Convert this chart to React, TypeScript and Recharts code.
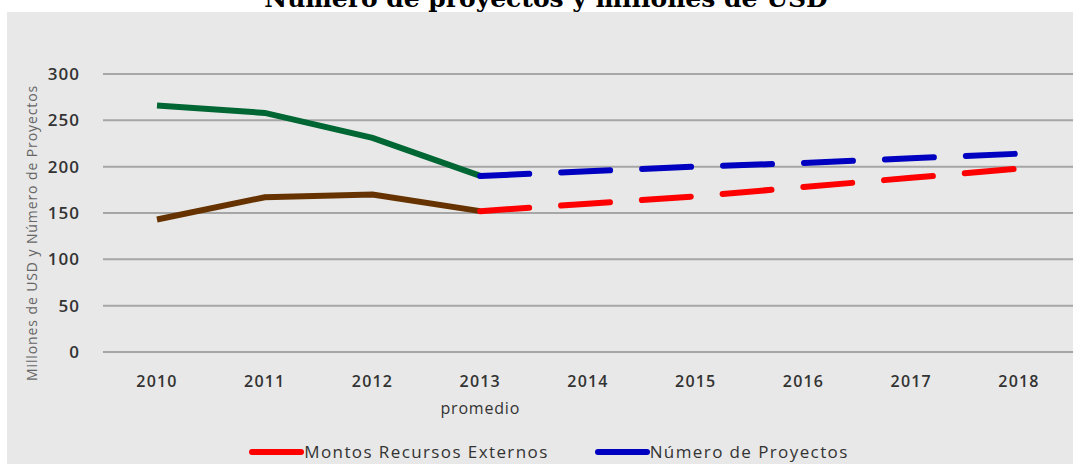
import { LineChart, Line, XAxis, YAxis, CartesianGrid, Legend } from 'recharts';

const years = ['2010', '2011', '2012', '2013', '2014', '2015', '2016', '2017', '2018'];
const yearNotes = ['', '', '', 'promedio', '', '', '', '', ''];
const proyectosHist = [266, 258, 231, 190, null, null, null, null, null];
const montosHist = [143, 167, 170, 152, null, null, null, null, null];
const proyectosProy = [null, null, null, 190, 195, 200, 204, 209, 214];
const montosProy = [null, null, null, 152, 160, 168, 178, 188, 198];
const yTicks = [0, 50, 100, 150, 200, 250, 300];

const data = years.map((y, i) => ({
  year: y,
  proyectosHist: proyectosHist[i],
  montosHist: montosHist[i],
  proyectosProy: proyectosProy[i],
  montosProy: montosProy[i],
}));

const FONT = '"Open Sans", "DejaVu Sans", sans-serif';

const XTick = ({ x, y, payload, index }: any) => (
  <g transform={`translate(${x},${y})`}>
    <text textAnchor="middle" y={35} fontSize={16} fontWeight={600} letterSpacing={1.2} fill="#333" fontFamily={FONT}>
      {payload.value}
    </text>
    {yearNotes[index] && (
      <text textAnchor="middle" y={62} fontSize={16} letterSpacing={0.8} fill="#333" fontFamily={FONT}>
        {yearNotes[index]}
      </text>
    )}
  </g>
);

const legendItems = [
  { label: 'Montos Recursos Externos', color: '#ff0000' },
  { label: 'Número de Proyectos', color: '#0000c0' },
];

const LegendContent = () => (
  <div style={{ display: 'flex', justifyContent: 'center', gap: 46, fontFamily: FONT, fontSize: 17, letterSpacing: 1.4, color: '#333', marginLeft: 18, marginTop: 10 }}>
    {legendItems.map((it) => (
      <div key={it.label} style={{ display: 'flex', alignItems: 'center' }}>
        <svg width={55} height={10}>
          <line x1={3} y1={5} x2={52} y2={5} stroke={it.color} strokeWidth={6} strokeLinecap="round" />
        </svg>
        <span>{it.label}</span>
      </div>
    ))}
  </div>
);

const YLabel = () => (
  <text
    x={26}
    y={221}
    transform="rotate(-90 26 221)"
    textAnchor="middle"
    dominantBaseline="middle"
    fontSize={14}
    letterSpacing={0.9}
    fill="#666"
    fontFamily={FONT}
  >
    Millones de USD y Número de Proyectos
  </text>
);

export default function App() {
  return (
    <div style={{ position: 'absolute', left: 0, top: 0, width: 1073, height: 464, background: '#fff', overflow: 'hidden' }}>
      <svg width={1073} height={12} style={{ position: 'absolute', left: 0, top: 0 }}>
        <text x={546} y={7} textAnchor="middle" fontSize={25} fontWeight="bold" fontFamily='"DejaVu Serif", serif' fill="#000">
          Número de proyectos y millones de USD
        </text>
      </svg>
      <div style={{ position: 'absolute', left: 7, top: 12, width: 1066, height: 452, background: '#e8e8e8' }}>
        <LineChart width={1066} height={452} data={data} margin={{ top: 62, right: 0, bottom: 4, left: 0 }}>
          <CartesianGrid vertical={false} stroke="#a6a6a6" strokeWidth={2} />
          <XAxis
            dataKey="year"
            axisLine={false}
            tickLine={false}
            tickSize={0}
            tickMargin={0}
            height={78}
            padding={{ left: 54, right: 54 }}
            tick={<XTick />}
            interval={0}
          />
          <YAxis
            domain={[0, 300]}
            ticks={yTicks}
            axisLine={false}
            tickLine={false}
            tickSize={0}
            tickMargin={23}
            width={96}
            tick={{ fontSize: 17, fontWeight: 600, letterSpacing: 1, fill: '#333', fontFamily: FONT }}
            label={<YLabel />}
          />
          <Legend verticalAlign="bottom" height={30} content={<LegendContent />} />
          <Line type="linear" dataKey="proyectosHist" stroke="#006633" strokeWidth={6} dot={false} legendType="none" isAnimationActive={false} />
          <Line type="linear" dataKey="montosHist" stroke="#663300" strokeWidth={6} dot={false} legendType="none" isAnimationActive={false} />
          <Line type="linear" dataKey="proyectosProy" stroke="#0000c0" strokeWidth={6} strokeDasharray="49 32" strokeLinecap="round" dot={false} isAnimationActive={false} />
          <Line type="linear" dataKey="montosProy" stroke="#ff0000" strokeWidth={6} strokeDasharray="49 32" strokeLinecap="round" dot={false} isAnimationActive={false} />
        </LineChart>
      </div>
    </div>
  );
}
